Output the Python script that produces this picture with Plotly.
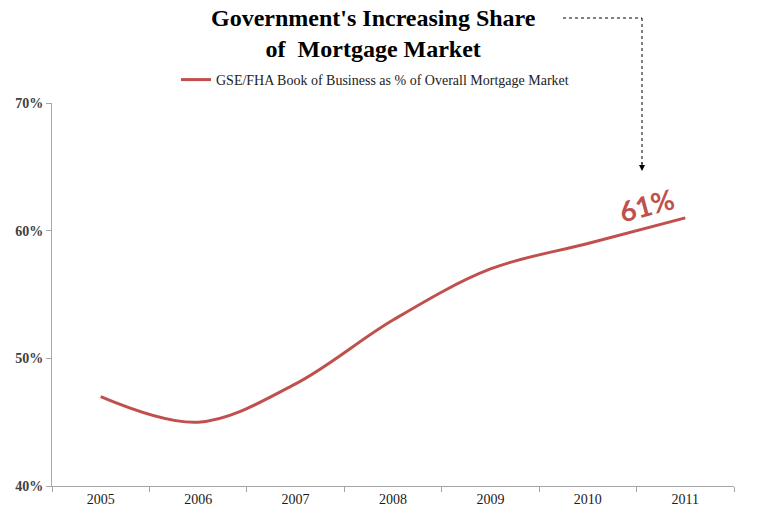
import plotly.graph_objects as go

years = ["2005", "2006", "2007", "2008", "2009", "2010", "2011"]
share = [0.47, 0.45, 0.48, 0.53, 0.57, 0.59, 0.61]
y_ticks = [0.4, 0.5, 0.6, 0.7]
y_labels = ["40%", "50%", "60%", "70%"]
series_name = "GSE/FHA Book of Business as % of Overall Mortgage Market"
title_text = "<b>Government's Increasing Share<br>of  Mortgage Market</b>"
callout = "61%"

RED = "#C0504D"
L, R, T, B = 52, 29, 103, 43
W, H = 763, 529
pw, ph = W - L - R, H - T - B

def px_x(p):
    return (p - L) / pw

def px_y(p):
    return (H - B - p) / ph

fig = go.Figure()
fig.add_trace(go.Scatter(
    x=years, y=share, mode="lines", name=series_name,
    line=dict(color=RED, width=3, shape="spline", smoothing=1.0),
    hoverinfo="skip",
))

fig.update_layout(
    width=W, height=H,
    margin=dict(l=L, r=R, t=T, b=B, pad=0),
    paper_bgcolor="white", plot_bgcolor="white",
    showlegend=True,
    legend=dict(x=px_x(176), y=px_y(80), xanchor="left", yanchor="middle",
                font=dict(family="Liberation Serif", size=14, color="#222222"),
                bgcolor="rgba(0,0,0,0)", itemwidth=30),
    xaxis=dict(type="category", tickson="boundaries", ticks="outside", ticklen=5,
               tickcolor="#a6a6a6", showline=True, linecolor="#a6a6a6", linewidth=1,
               showgrid=False, zeroline=False, range=[-0.5, 6.5],
               tickfont=dict(family="Liberation Serif", size=14, color="#1a1a1a")),
    yaxis=dict(range=[0.4, 0.7], tickvals=y_ticks,
               ticktext=["<b>" + t + "</b>" for t in y_labels], ticks="outside",
               ticklen=5, tickcolor="#a6a6a6", showline=True, linecolor="#a6a6a6",
               linewidth=1, showgrid=False, zeroline=False,
               tickfont=dict(family="Liberation Serif", size=14, color="#404040")),
)

# title
fig.add_annotation(xref="paper", yref="paper", x=px_x(373), y=px_y(3),
                   xanchor="center", yanchor="top", showarrow=False, align="center",
                   text=title_text,
                   font=dict(family="Liberation Serif", size=24, color="#000000"))

# dashed callout connector
fig.add_shape(type="line", xref="paper", yref="paper", x0=px_x(563), y0=px_y(18),
              x1=px_x(642), y1=px_y(18), line=dict(color="#000", width=1, dash="dot"))
fig.add_shape(type="line", xref="paper", yref="paper", x0=px_x(642), y0=px_y(18),
              x1=px_x(642), y1=px_y(164), line=dict(color="#000", width=1, dash="dot"))
fig.add_annotation(xref="paper", yref="paper", x=px_x(642), y=px_y(171),
                   ax=0, ay=-10, axref="pixel", ayref="pixel",
                   showarrow=True, arrowhead=2, arrowsize=1.2, arrowwidth=1,
                   arrowcolor="#000", text="")

fig.add_annotation(x=5.6, y=0.62, xref="x", yref="y", text="<b>" + callout + "</b>",
                   showarrow=False, textangle=-15,
                   font=dict(family="Lato", size=28, color=RED))

fig.write_html("out.html")
